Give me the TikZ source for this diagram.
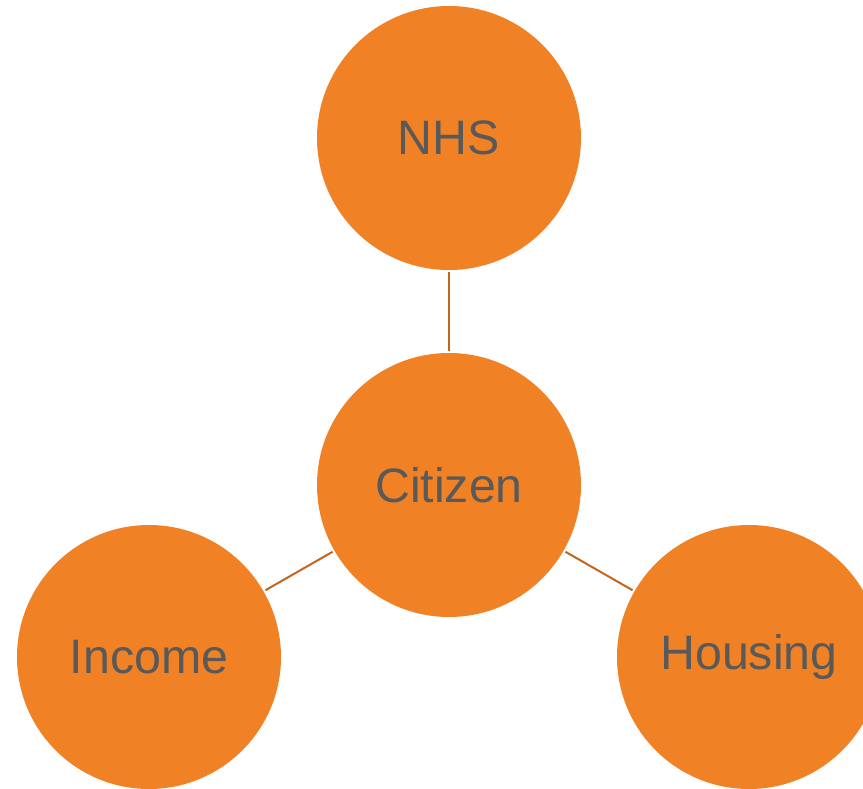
\documentclass[tikz,border=0pt]{standalone}
\usepackage{fontspec}
\setmainfont{Liberation Sans}
\definecolor{circfill}{HTML}{F08225}
\definecolor{linkcol}{HTML}{C4651E}
\definecolor{txtcol}{HTML}{595959}
\begin{document}
\begin{tikzpicture}[x=1bp,y=-1bp,
  bubble/.style={circle,fill=circfill,draw=none,minimum size=264bp,inner sep=0pt,
    text=txtcol,font=\fontsize{48.5}{58}\selectfont},
  link/.style={draw=linkcol,line width=2bp,shorten <=2bp,shorten >=2bp}]
\useasboundingbox (0,0) rectangle (863,789);
\clip (0,0) rectangle (863,789);
\node[bubble] (nhs) at (449,138) {NHS};
\node[bubble] (cit) at (449,485) {Citizen};
\node[bubble] (inc) at (149,657) {Income};
\node[bubble] (hou) at (749,657) {Housing};
\draw[link] (nhs) -- (cit);
\draw[link] (cit) -- (inc);
\draw[link] (cit) -- (hou);
\end{tikzpicture}
\end{document}
